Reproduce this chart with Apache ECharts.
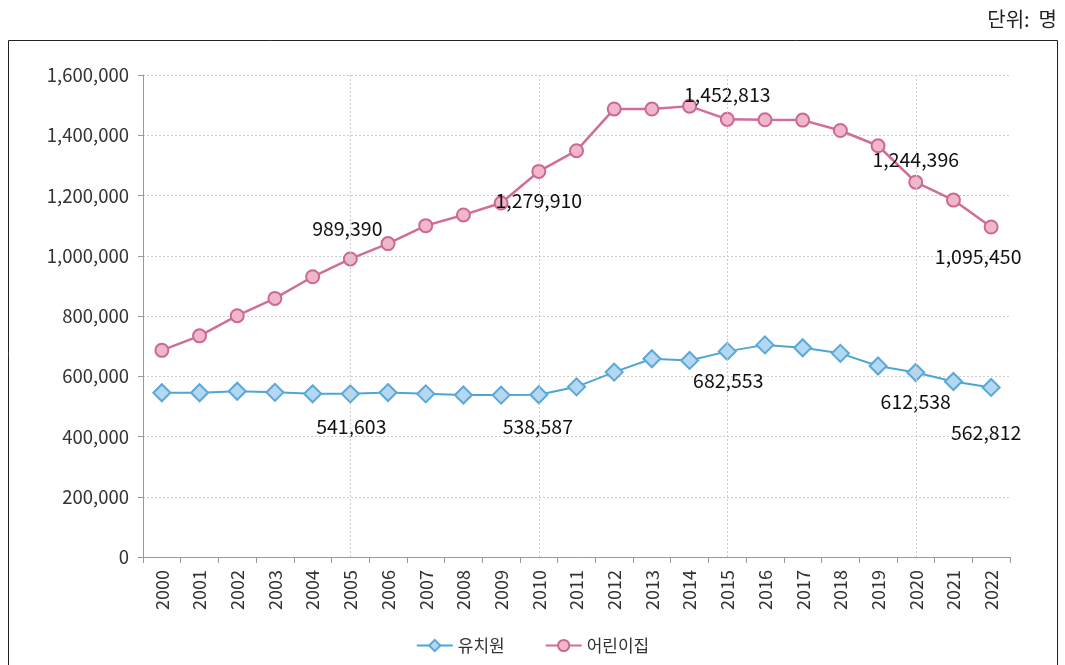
<!DOCTYPE html>
<html><head><meta charset="utf-8">
<script src="https://cdn.jsdelivr.net/npm/echarts@6/dist/echarts.min.js"></script>
<style>html,body{margin:0;padding:0;background:#fff}#c{width:1065px;height:665px}</style>
</head><body><div id="c"></div>
<script>
const years = ['2000','2001','2002','2003','2004','2005','2006','2007','2008','2009','2010','2011','2012','2013','2014','2015','2016','2017','2018','2019','2020','2021','2022'];
const kindergarten = [545263,545142,550150,546531,541713,541603,545812,541550,537822,537361,538587,564834,613749,658188,652546,682553,704138,694631,675998,633913,612538,582572,562812];
const childcare = [686000,734192,800991,858345,930252,989390,1040361,1099933,1135502,1175049,1279910,1348729,1487361,1486980,1496671,1452813,1451215,1450243,1415742,1365085,1244396,1184716,1095450];
const yTicks = [0,200000,400000,600000,800000,1000000,1200000,1400000,1600000];
const gridYears = ['2005','2010','2015','2020'];
const seriesNames = ['유치원','어린이집'];
const unitText = '단위:  명';
// labeled points: index -> [dx, dy] offset of label centre (px)
const kinderLabels = {5:[1,33], 10:[-1,32], 15:[1,29], 20:[0,29], 22:[-5,45]};
const childLabels = {5:[-3,-30], 10:[0,29], 15:[0,-25], 20:[0,-23], 22:[-13,30]};

const font = '"Noto Sans CJK KR", "Noto Sans", sans-serif';
function fmt(v){return v.toLocaleString('en-US');}
function build(vals, labels){
  return vals.map((v,i)=>{
    if(labels[i]===undefined) return v;
    return {value:v, label:{show:true, position:'inside', offset:labels[i], color:'#111', fontSize:19.5, fontFamily:font, formatter:p=>fmt(p.value)}};
  });
}
const chart = echarts.init(document.getElementById('c'));
chart.setOption({
  animation:false,
  backgroundColor:'#fff',
  graphic:[
    {type:'rect', shape:{x:8.5,y:40.5,width:1049,height:700}, style:{fill:'none',stroke:'#222',lineWidth:1}, silent:true, z:-1},
    {type:'text', right:8, top:9, style:{text:unitText, fontSize:20, fontFamily:font, fill:'#222'}}
  ],
  grid:{left:143, right:55, top:75, bottom:108},
  legend:{
    bottom:6, left:'center', itemGap:40, itemWidth:36, itemHeight:14,
    textStyle:{fontSize:17, fontFamily:font, color:'#333'},
    data:seriesNames
  },
  xAxis:{
    type:'category', data:years, boundaryGap:true,
    axisLine:{lineStyle:{color:'#999'}},
    axisTick:{show:true, length:6, lineStyle:{color:'#999'}},
    axisLabel:{rotate:90, fontSize:18, fontFamily:font, color:'#333', margin:13},
    splitLine:{show:false}
  },
  yAxis:{
    type:'value', min:0, max:1600000, interval:200000,
    axisLine:{show:true, lineStyle:{color:'#999'}},
    axisTick:{show:true, length:5, lineStyle:{color:'#999'}},
    axisLabel:{fontSize:18.5, fontFamily:font, color:'#333', margin:14, formatter:v=>fmt(v)},
    splitLine:{lineStyle:{color:'#cccccc', type:[2,2], width:1}}
  },
  series:[
    {
      name:seriesNames[0], type:'line', data:build(kindergarten,kinderLabels),
      symbol:'diamond', symbolSize:17,
      lineStyle:{color:'#4ea6d4', width:2},
      itemStyle:{color:'#b5d8f2', borderColor:'#5aa8d8', borderWidth:2},
      markLine:{silent:true, symbol:'none', label:{show:false},
        lineStyle:{color:'#cccccc', type:[2,2], width:1},
        data:gridYears.map(y=>({xAxis:y}))},
      z:3
    },
    {
      name:seriesNames[1], type:'line', data:build(childcare,childLabels),
      symbol:'circle', symbolSize:13,
      lineStyle:{color:'#d06e9a', width:2.5},
      itemStyle:{color:'#f2b6cc', borderColor:'#c96a94', borderWidth:2},
      z:4
    }
  ]
});
</script></body></html>
